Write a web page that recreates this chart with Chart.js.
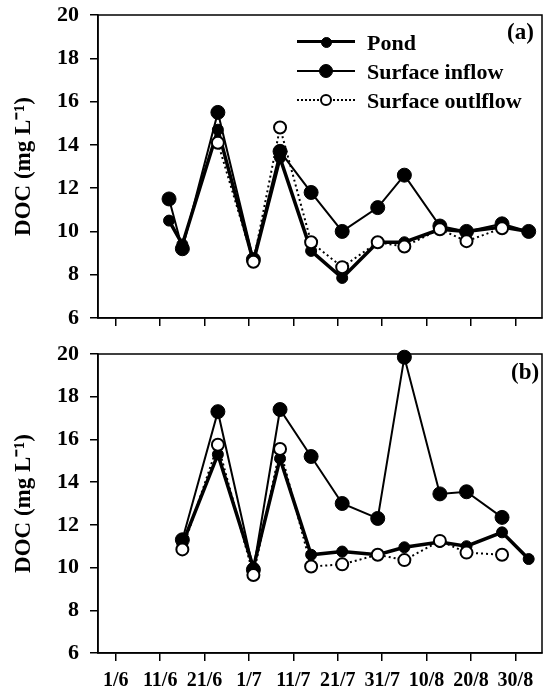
<!DOCTYPE html>
<html>
<head>
<meta charset="utf-8">
<script src="https://cdn.jsdelivr.net/npm/chart.js@4.4.0/dist/chart.umd.min.js"></script>
<style>
  html, body { margin: 0; padding: 0; background: #fff; }
  #wrap { position: relative; width: 550px; height: 698px; overflow: hidden;
          font-family: 'Liberation Serif', 'Times New Roman', serif; font-weight: bold; color: #000; }
  canvas { position: absolute; left: 0; }
  #chartA { top: 0; }
  #chartB { top: 336px; }
  .tag { position: absolute; font-size: 23px; line-height: 23px; }
  #legend { position: absolute; left: 297px; top: 28px; font-size: 22px; }
  .row { position: relative; height: 29px; line-height: 29px; white-space: nowrap; }
  .swatch { position: absolute; left: 0; top: 0; width: 58px; height: 29px; }
  .swatch .ln { position: absolute; left: 0; width: 58px; top: 14px; height: 0; }
  .swatch .mk { position: absolute; border-radius: 50%; box-sizing: border-box; }
  .row .txt { position: absolute; left: 70px; top: 0; }
</style>
</head>
<body>
<div id="wrap">
  <canvas id="chartA" width="550" height="336"></canvas>
  <canvas id="chartB" width="550" height="366"></canvas>
  <div id="legend"></div>
  <div class="tag" style="left:507px; top:20px;">(a)</div>
  <div class="tag" style="left:511px; top:360px;">(b)</div>
</div>
<script>
// Sampling days, counted from 1 June
const days = [12, 15, 23, 31, 37, 44, 51, 59, 65, 73, 79, 87, 93];

// x axis ticks (every 10 days) and their labels
const tickDays = [0, 10, 20, 30, 40, 50, 60, 70, 80, 90];
const tickLabels = ['1/6', '11/6', '21/6', '1/7', '11/7', '21/7', '31/7', '10/8', '20/8', '30/8'];

// Panel (a)
const pondA    = [10.5, 9.4, 14.7, 8.6, 13.4, 9.1, 7.85, 9.5, 9.5, 10.1, 10.0, 10.2, 10.0];
const inflowA  = [11.5, 9.2, 15.5, 8.7, 13.7, 11.8, 10.0, 11.1, 12.6, 10.25, 10.0, 10.35, 10.0];
const outflowA = [null, null, 14.1, 8.6, 14.8, 9.5, 8.35, 9.5, 9.3, 10.1, 9.55, 10.15, null];

// Panel (b)
const pondB    = [null, 11.1, 15.3, 10.0, 15.1, 10.6, 10.75, 10.6, 10.95, 11.2, 11.0, 11.65, 10.4];
const inflowB  = [null, 11.3, 17.3, 9.9, 17.4, 15.2, 13.0, 12.3, 19.85, 13.45, 13.55, 12.35, null];
const outflowB = [null, 10.85, 15.75, 9.65, 15.55, 10.05, 10.15, 10.6, 10.35, 11.25, 10.7, 10.6, null];

const seriesNames = ['Pond', 'Surface inflow', 'Surface outlflow'];

const serif = "'Liberation Serif', 'Times New Roman', serif";

function toPoints(values) {
  return days.map((d, i) => ({ x: d, y: values[i] }));
}

// Frame round the plot area (top and right sides too)
const framePlugin = {
  id: 'frame',
  beforeDatasetsDraw(chart) {
    const a = chart.chartArea;
    const ctx = chart.ctx;
    ctx.save();
    ctx.strokeStyle = '#000';
    ctx.lineWidth = 1.5;
    ctx.strokeRect(a.left, a.top, a.right - a.left, a.bottom - a.top);
    ctx.restore();
  }
};

function makeDatasets(pond, inflow, outflow) {
  return [
    {
      label: seriesNames[0],
      data: toPoints(pond),
      borderColor: '#000',
      borderWidth: 3.5,
      pointRadius: 5.5,
      pointBackgroundColor: '#000',
      pointBorderColor: '#000',
      pointBorderWidth: 1,
      order: 1,
      clip: false
    },
    {
      label: seriesNames[1],
      data: toPoints(inflow),
      borderColor: '#000',
      borderWidth: 2,
      pointRadius: 7,
      pointBackgroundColor: '#000',
      pointBorderColor: '#000',
      pointBorderWidth: 1,
      order: 2,
      clip: false
    },
    {
      label: seriesNames[2],
      data: toPoints(outflow),
      borderColor: '#000',
      borderWidth: 2,
      borderDash: [2, 3],
      pointRadius: 6,
      pointBackgroundColor: '#fff',
      pointBorderColor: '#000',
      pointBorderWidth: 2,
      order: 0,
      clip: false
    }
  ];
}

function makePanel(canvasId, pond, inflow, outflow, showXLabels, padding) {
  const ctx = document.getElementById(canvasId).getContext('2d');
  return new Chart(ctx, {
    type: 'line',
    data: { datasets: makeDatasets(pond, inflow, outflow) },
    plugins: [framePlugin],
    options: {
      responsive: false,
      animation: false,
      layout: { padding: padding },
      plugins: {
        legend: { display: false },
        tooltip: { enabled: false }
      },
      scales: {
        x: {
          type: 'linear',
          min: -4,
          max: 96,
          afterBuildTicks: (scale) => {
            scale.ticks = tickDays.map(v => ({ value: v }));
          },
          ticks: {
            display: showXLabels,
            autoSkip: false,
            maxRotation: 0,
            padding: 8,
            color: '#000',
            font: { family: serif, size: 20, weight: 'bold' },
            callback: (value) => tickLabels[tickDays.indexOf(value)]
          },
          grid: {
            drawOnChartArea: false,
            drawTicks: true,
            tickLength: 8,
            color: '#000',
            lineWidth: 1.5
          },
          border: { display: true, color: '#000', width: 1.5 }
        },
        y: {
          min: 6,
          max: 20,
          afterFit: (scale) => {
            scale.width = 98;
            // keep the plot box where the layout padding puts it
            scale.paddingTop = 0;
            scale.paddingBottom = 0;
          },
          ticks: {
            stepSize: 2,
            padding: 11,
            color: '#000',
            font: { family: serif, size: 22, weight: 'bold' }
          },
          title: {
            display: true,
            text: 'DOC (mg L\u207B\u00B9)',
            color: '#000',
            padding: { top: 10, bottom: 0 },
            font: { family: serif, size: 23, weight: 'bold' }
          },
          grid: {
            drawOnChartArea: false,
            drawTicks: true,
            tickLength: 8,
            color: '#000',
            lineWidth: 1.5
          },
          border: { display: true, color: '#000', width: 1.5 }
        }
      }
    }
  });
}

const chartA = makePanel('chartA', pondA, inflowA, outflowA, false, { top: 15, right: 2, bottom: 10, left: 0 });
const chartB = makePanel('chartB', pondB, inflowB, outflowB, true, { top: 18, right: 2, bottom: 1, left: 0 });

// Legend for panel (a), built from the chart's own datasets
function buildLegend(chart) {
  const box = document.getElementById('legend');
  box.innerHTML = '';
  chart.data.datasets.forEach(ds => {
    const row = document.createElement('div');
    row.className = 'row';

    const sw = document.createElement('div');
    sw.className = 'swatch';
    const ln = document.createElement('div');
    ln.className = 'ln';
    const style = ds.borderDash ? 'dotted' : 'solid';
    ln.style.borderTop = ds.borderWidth + 'px ' + style + ' ' + ds.borderColor;
    ln.style.marginTop = (-ds.borderWidth / 2) + 'px';
    const mk = document.createElement('div');
    mk.className = 'mk';
    const d = ds.pointRadius * 2;
    mk.style.width = d + 'px';
    mk.style.height = d + 'px';
    mk.style.left = (29 - ds.pointRadius) + 'px';
    mk.style.top = (14 - ds.pointRadius) + 'px';
    mk.style.background = ds.pointBackgroundColor;
    mk.style.border = ds.pointBorderWidth + 'px solid ' + ds.pointBorderColor;
    sw.appendChild(ln);
    sw.appendChild(mk);

    const txt = document.createElement('span');
    txt.className = 'txt';
    txt.textContent = ds.label;

    row.appendChild(sw);
    row.appendChild(txt);
    box.appendChild(row);
  });
}

buildLegend(chartA);
</script>
</body>
</html>
